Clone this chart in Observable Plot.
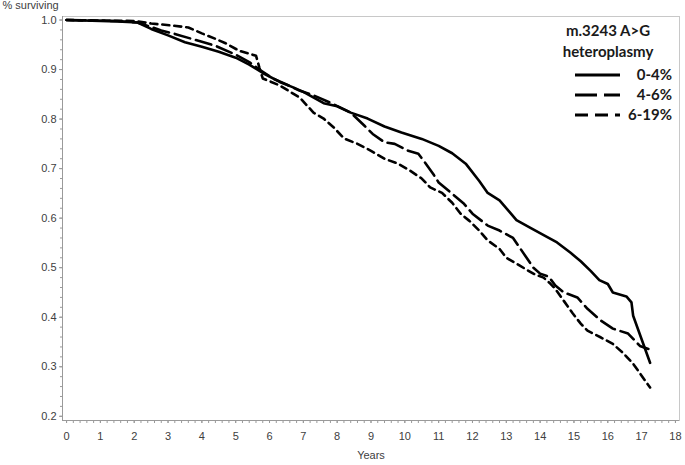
<!DOCTYPE html>
<html>
<head>
<meta charset="utf-8">
<script src="https://cdn.jsdelivr.net/npm/d3@7"></script>
<script src="https://cdn.jsdelivr.net/npm/@observablehq/plot@0.6"></script>
<style>
  html, body { margin: 0; padding: 0; background: #fff; }
  #wrap { position: relative; width: 685px; height: 465px; }
  #legend { position: absolute; left: 0; top: 0; pointer-events: none; }
</style>
</head>
<body>
<div id="wrap"></div>
<script>
// ---- Data ----
const seriesNames = ["0-4%", "4-6%", "6-19%"];
const legendTitle = ["m.3243 A>G", "heteroplasmy"];

const years0_4 = [0,1.5,2.1,2.5,3.0,3.5,4.0,4.5,5.0,5.4,5.8,6.3,6.7,7.0,7.6,8.0,8.4,8.9,9.4,9.9,10.5,11.0,11.4,11.8,12.2,12.45,12.8,13.1,13.3,13.7,14.2,14.5,14.9,15.2,15.5,15.75,16.0,16.15,16.55,16.7,16.75,17.25];
const surv0_4  = [1.0,0.997,0.995,0.982,0.969,0.955,0.946,0.936,0.924,0.91,0.893,0.875,0.864,0.855,0.832,0.826,0.813,0.801,0.785,0.773,0.76,0.746,0.731,0.71,0.675,0.651,0.636,0.612,0.596,0.581,0.562,0.551,0.53,0.513,0.493,0.475,0.467,0.45,0.442,0.43,0.403,0.308];

const years4_6 = [0,1.5,2.1,2.8,3.2,3.8,4.4,5.0,5.4,5.7,6.1,6.5,6.9,7.3,7.8,8.4,8.8,9.05,9.4,9.7,10.1,10.4,10.6,10.85,11.0,11.35,11.75,12.0,12.45,12.8,13.2,13.4,13.6,13.8,14.0,14.25,14.45,14.7,15.1,15.4,15.8,16.15,16.6,16.95,17.2];
const surv4_6  = [1.0,0.998,0.995,0.979,0.972,0.96,0.948,0.93,0.915,0.9,0.882,0.87,0.857,0.848,0.833,0.813,0.787,0.77,0.753,0.75,0.736,0.73,0.712,0.688,0.672,0.652,0.629,0.609,0.585,0.575,0.56,0.54,0.52,0.5,0.488,0.482,0.464,0.45,0.44,0.417,0.393,0.377,0.367,0.342,0.336];

const years6_19 = [0,2.0,2.5,3.1,3.6,4.0,4.4,4.7,5.1,5.6,5.7,5.8,6.3,6.9,7.3,7.6,7.9,8.2,8.6,9.0,9.4,9.8,10.15,10.5,10.75,11.1,11.4,11.65,11.9,12.2,12.45,12.8,13.0,13.4,13.8,14.1,14.3,14.45,14.7,14.95,15.2,15.4,15.8,16.15,16.45,16.75,17.0,17.25];
const surv6_19  = [1.0,0.998,0.993,0.989,0.985,0.973,0.962,0.953,0.938,0.928,0.904,0.882,0.868,0.843,0.813,0.801,0.783,0.761,0.75,0.736,0.72,0.71,0.696,0.68,0.662,0.651,0.631,0.609,0.595,0.575,0.555,0.538,0.52,0.504,0.488,0.48,0.468,0.457,0.433,0.409,0.387,0.373,0.359,0.346,0.328,0.306,0.282,0.258];

const xMajorTicks = d3.range(0, 19, 1);
const xMinorTicks = d3.range(0, 90.5, 1).map(d => d / 5);
const yMajorTicks = d3.range(2, 11, 1).map(d => d / 10);
const yMinorTicks = d3.range(10, 50.5, 1).map(d => d / 50);

// ---- Build tables ----
const toRows = (xs, ys) => xs.map((x, i) => ({x, y: ys[i]}));
const rows = [toRows(years0_4, surv0_4), toRows(years4_6, surv4_6), toRows(years6_19, surv6_19)];
const dashes = [null, "16,6", "7,5"];

const font = "'Liberation Sans', Arial, sans-serif";
const axisGray = "#9a9a9a";
const textGray = "#404040";

const chart = Plot.plot({
  width: 685,
  height: 465,
  marginLeft: 62,
  marginRight: 6,
  marginTop: 16,
  marginBottom: 45,
  style: {fontFamily: font, fontSize: "11px", background: "#fff", overflow: "visible"},
  x: {domain: [-0.12, 18.12]},
  y: {domain: [0.1915, 1.0071]},
  marks: [
    Plot.frame({stroke: "#c8c8c8"}),
    Plot.axisY({ticks: yMinorTicks, tickSize: 2, text: null, stroke: axisGray, label: null}),
    Plot.axisY({ticks: yMajorTicks, tickSize: 3, tickPadding: 3, tickFormat: d3.format(".1f"), stroke: axisGray, fill: textGray, fontSize: 11, label: null}),
    Plot.axisX({ticks: xMinorTicks, tickSize: 3, text: null, stroke: axisGray, label: null}),
    Plot.axisX({ticks: xMajorTicks, tickSize: 3, tickPadding: 9, tickFormat: d3.format("d"), stroke: axisGray, fill: textGray, fontSize: 11, label: null}),
    Plot.ruleX([-0.12], {stroke: axisGray}),
    Plot.ruleY([0.1915], {stroke: axisGray}),
    Plot.text(["% surviving"], {frameAnchor: "top-left", textAnchor: "start", lineAnchor: "top", dx: -60, dy: -15, fill: textGray, fontSize: 11}),
    Plot.text(["Years"], {frameAnchor: "bottom", dy: 38, fill: textGray, fontSize: 11}),
    ...rows.map((r, i) => Plot.line(r, {x: "x", y: "y", stroke: "#000", strokeWidth: 2.6, strokeDasharray: dashes[i], strokeLinejoin: "round"}))
  ]
});

const wrap = document.getElementById("wrap");
wrap.appendChild(chart);

// ---- Legend overlay ----
const NS = "http://www.w3.org/2000/svg";
const leg = document.createElementNS(NS, "svg");
leg.setAttribute("id", "legend");
leg.setAttribute("width", 685);
leg.setAttribute("height", 465);
const legFont = "Lato, 'Open Sans', sans-serif";
legendTitle.forEach((t, i) => {
  const tx = document.createElementNS(NS, "text");
  tx.setAttribute("x", 608);
  tx.setAttribute("y", 36 + i * 21);
  tx.setAttribute("text-anchor", "middle");
  tx.setAttribute("font-family", legFont);
  tx.setAttribute("font-weight", "bold");
  tx.setAttribute("font-size", "15px");
  tx.setAttribute("fill", "#1a1a1a");
  tx.textContent = t;
  leg.appendChild(tx);
});
const legDashes = [null, "22,7", "13,7"];
seriesNames.forEach((name, i) => {
  const ly = 75 + i * 20;
  const ln = document.createElementNS(NS, "line");
  ln.setAttribute("x1", 575); ln.setAttribute("x2", 620);
  ln.setAttribute("y1", ly); ln.setAttribute("y2", ly);
  ln.setAttribute("stroke", "#000");
  ln.setAttribute("stroke-width", 3);
  if (legDashes[i]) ln.setAttribute("stroke-dasharray", legDashes[i]);
  leg.appendChild(ln);
  const tx = document.createElementNS(NS, "text");
  tx.setAttribute("x", 672);
  tx.setAttribute("y", ly + 5);
  tx.setAttribute("text-anchor", "end");
  tx.setAttribute("font-family", legFont);
  tx.setAttribute("font-weight", "bold");
  tx.setAttribute("font-size", "15px");
  tx.setAttribute("fill", "#1a1a1a");
  tx.textContent = name;
  leg.appendChild(tx);
});
wrap.appendChild(leg);
</script>
</body>
</html>
